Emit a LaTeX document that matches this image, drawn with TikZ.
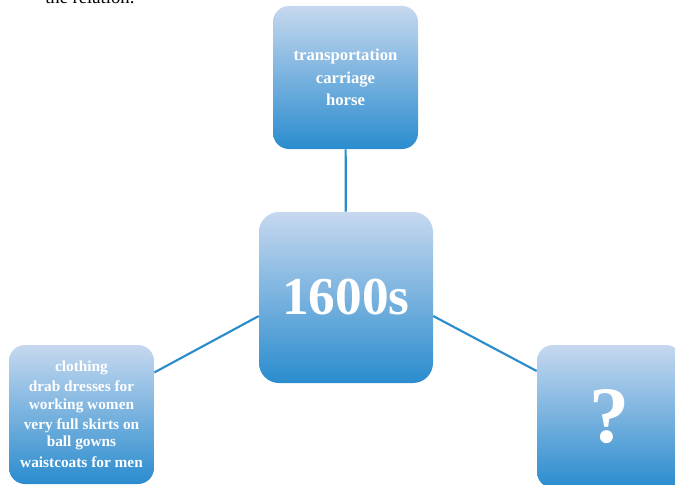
\documentclass[tikz,border=0pt]{standalone}
\usepackage{fontspec}
\setmainfont{Liberation Serif}
\usetikzlibrary{positioning}
\definecolor{mmtop}{HTML}{C6D8EF}
\definecolor{mmbottom}{HTML}{2A8CCE}
\definecolor{mmline}{HTML}{2A8CCB}
\tikzset{
  topic/.style={rectangle, rounded corners=12pt, top color=mmtop, bottom color=mmbottom,
              draw=none, text=white, align=center, inner sep=2pt,
              minimum width=108.75pt, minimum height=107.25pt},
  era/.style={topic, rounded corners=15pt, minimum width=130.5pt, minimum height=128.25pt},
  link/.style={draw=mmline, line width=1.6pt},
}

\begin{document}
\begin{tikzpicture}[x=0.75pt, y=-0.75pt]
      \useasboundingbox (0,0) rectangle (675,485);
      \node[anchor=base west, inner sep=0pt, font=\fontsize{14}{16}\selectfont] (intro) at (45,4) {the relation.};
      \node[era, font=\bfseries\fontsize{40}{44}\selectfont] (era) at (346,297.5) {1600s};
      \node[topic, font=\bfseries\fontsize{12.5}{17}\selectfont] (transport) at (345.5,77.5)
        {transportation\\carriage\\horse};
      \node[topic, minimum height=104.25pt, font=\bfseries\fontsize{11.5}{13}\selectfont] (clothing) at (81.5,414.5)
        {clothing\\[2pt]drab dresses for\\working women\\[2pt]very full skirts on\\ball gowns\\[3pt]waistcoats for men};
      \node[topic, font=\bfseries\fontsize{60}{64}\selectfont] (unknown) at (609.5,416.5) {?};
      \draw[link] (transport) -- (era);
      \draw[link] (era.192) -- (clothing.30);
      \draw[link] (era.-12) -- (unknown.148);
    \end{tikzpicture}
\end{document}
